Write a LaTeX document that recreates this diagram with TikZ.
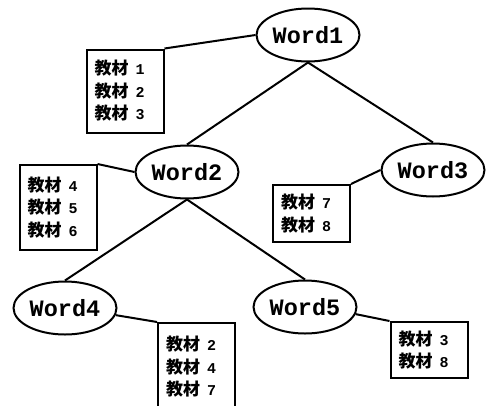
\documentclass[tikz,border=0pt]{standalone}
\usepackage{fontspec}
\newfontfamily\cjk{Noto Sans CJK SC}
\newfontfamily\mono{Liberation Mono}
\usetikzlibrary{shapes.geometric}
\newcommand\jc[1]{{\cjk\bfseries 教材}\hspace{7pt}{\mono\bfseries\fontsize{15}{22.5}\selectfont #1}}
\begin{document}
\begin{tikzpicture}[x=1pt,y=-1pt,line width=2pt,
  word/.style={ellipse,draw,inner sep=0pt,minimum width=103pt,minimum height=53pt,
    font=\mono\bfseries\fontsize{23.5}{23.5}\selectfont},
  list/.style={draw,rectangle,inner xsep=8pt,inner ysep=0pt,text width=61pt,align=left,
    font=\fontsize{17}{22.5}\selectfont},
  link/.style={line width=2pt}]
\useasboundingbox (0,0) rectangle (487,405);
\clip (0,0) rectangle (487,405);
\node[word] (w1) at (308,35) {Word1};
\node[word] (w2) at (187,172) {Word2};
\node[word] (w3) at (433,170) {Word3};
\node[word] (w4) at (65,308) {Word4};
\node[word] (w5) at (305,307) {Word5};
\node[list,minimum height=83pt] (b1) at (125,91) {\jc{1}\\\jc{2}\\\jc{3}};
\node[list,minimum height=85pt] (b2) at (58,207.5) {\jc{4}\\\jc{5}\\\jc{6}};
\node[list,minimum height=57pt] (b3) at (311.5,213.5) {\jc{7}\\\jc{8}};
\node[list,minimum height=88pt] (b4) at (196.5,367) {\jc{2}\\\jc{4}\\\jc{7}};
\node[list,minimum height=56pt] (b5) at (429,350) {\jc{3}\\\jc{8}};
\draw[link] (w1.south) -- (w2.north);
\draw[link] (w1.south) -- (w3.north);
\draw[link] (w2.south) -- (w4.north);
\draw[link] (w2.south) -- (w5.north);
\draw[link] (b1.north east) -- (w1.west);
\draw[link] (b2.north east) -- (w2.west);
\draw[link] (b3.north east) -- (w3.west);
\draw[link] (w4.-8) -- (b4.north west);
\draw[link] (w5.-8) -- (b5.north west);
\end{tikzpicture}
\end{document}
